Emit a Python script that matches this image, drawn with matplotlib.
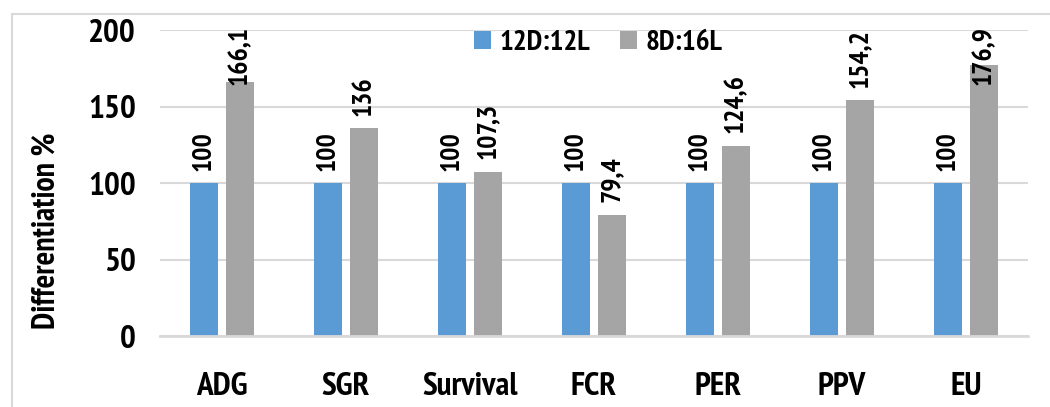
import numpy as np
import matplotlib.pyplot as plt
from matplotlib.patches import Rectangle

categories = ['ADG', 'SGR', 'Survival', 'FCR', 'PER', 'PPV', 'EU']
ctrl_12d = [100, 100, 100, 100, 100, 100, 100]
long_8d = [166.1, 136, 107.3, 79.4, 124.6, 154.2, 176.9]
series_names = ['12D:12L', '8D:16L']

plt.rcParams['font.family'] = ['PT Sans Narrow', 'DejaVu Sans']
plt.rcParams['font.weight'] = 'bold'

fig = plt.figure(figsize=(10.5, 4.07), dpi=100)
ax = fig.add_axes([0.152, 0.174, 0.827, 0.752])

# chart border like the office chart frame
fig.patches.append(Rectangle((0.0115, -0.05), 1.0, 1.0156, transform=fig.transFigure,
                             fill=False, edgecolor='#d9d9d9', linewidth=1.5))

x = np.arange(len(categories))
w = 0.225
gap = 0.065
b1 = ax.bar(x - (w + gap) / 2, ctrl_12d, w, color='#5B9BD5', label=series_names[0])
b2 = ax.bar(x + (w + gap) / 2, long_8d, w, color='#A5A5A5', label=series_names[1])

def fmt(v):
    s = ('%g' % v)
    return s.replace('.', ',')

labels = []
for bars, vals in [(b1, ctrl_12d), (b2, long_8d)]:
    for r, v in zip(bars, vals):
        t = ax.annotate(fmt(v), (r.get_x() + r.get_width() / 2, r.get_height()),
                        xytext=(0, 9), textcoords='offset points', rotation=90,
                        ha='center', va='bottom', fontsize=20, fontweight='bold')
        labels.append(t)

ax.set_xlim(-0.5, len(categories) - 0.5)
ax.set_ylim(0, 200)
ax.set_yticks([0, 50, 100, 150, 200])
ax.set_xticks(x)
ax.set_xticklabels(categories)
ax.tick_params(axis='both', length=0, labelsize=24)
ax.tick_params(axis='x', pad=26)
ax.tick_params(axis='y', pad=17)
ax.yaxis.grid(True, color='#d9d9d9', linewidth=1.5)
ax.set_axisbelow(True)
for s in ['top', 'right', 'left']:
    ax.spines[s].set_visible(False)
ax.spines['bottom'].set_color('#d9d9d9')
ax.spines['bottom'].set_linewidth(2)
ax.set_ylabel('Differentiation %', fontsize=23, fontweight='bold')
ax.yaxis.set_label_coords(-0.113, 0.345)

ax.legend(loc='upper center', bbox_to_anchor=(0.505, 1.085), ncol=2, frameon=False,
          fontsize=21, handlelength=0.6, handleheight=0.6, columnspacing=1.0,
          handletextpad=0.3)

# keep labels of tall bars inside the chart area (pushed down like office charts do)
fig.canvas.draw()
top_limit = fig.bbox.height - 26
for t in labels:
    bb = t.get_window_extent()
    if bb.y1 > top_limit:
        shift = (bb.y1 - top_limit) * 72 / fig.dpi
        t.set_position((0, 9 - shift))

fig.savefig('out.png', dpi=100)
